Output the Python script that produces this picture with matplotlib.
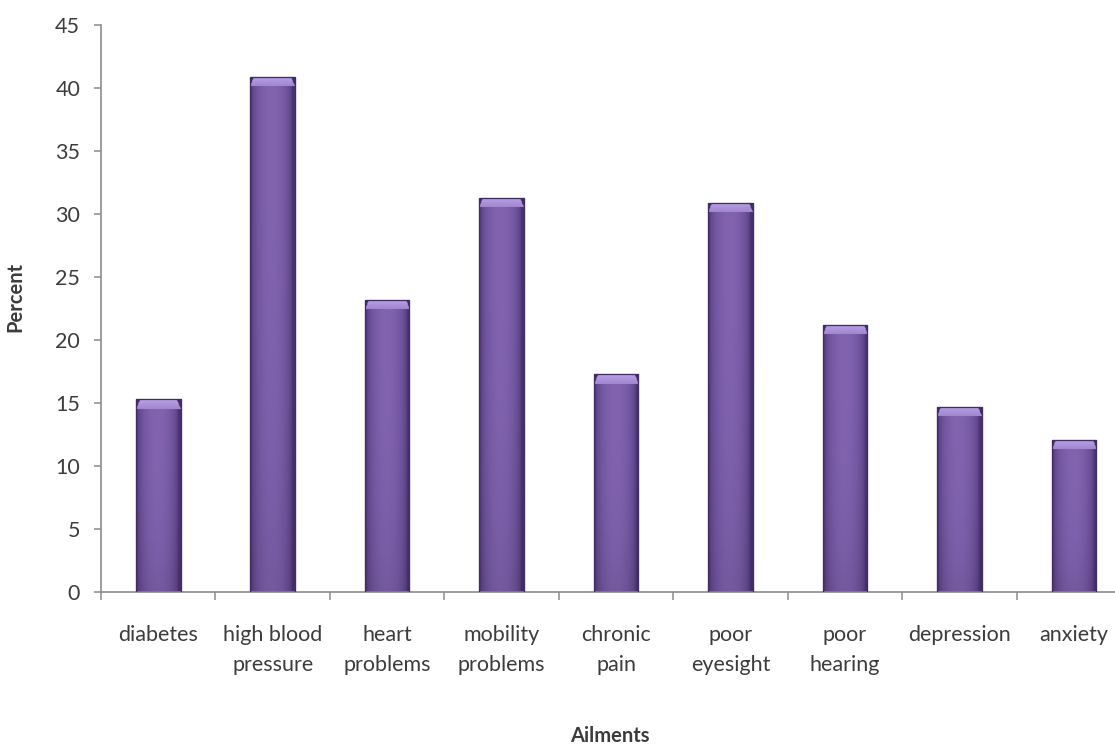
import numpy as np
import matplotlib
matplotlib.use("Agg")
import matplotlib.pyplot as plt
from matplotlib.colors import to_rgb

# Share of respondents reporting each ailment
ailments = ["diabetes", "high blood\npressure", "heart\nproblems", "mobility\nproblems",
            "chronic\npain", "poor\neyesight", "poor\nhearing", "depression", "anxiety"]
percent = [15.3, 40.9, 23.2, 31.3, 17.3, 30.9, 21.2, 14.7, 12.1]
y_ticks = [0, 5, 10, 15, 20, 25, 30, 35, 40, 45]

plt.rcParams["font.family"] = ["Lato", "DejaVu Sans"]
TEXT = "#3c3c3c"
AXIS = "#8c8c8c"

fig = plt.figure(figsize=(11.15, 7.47), dpi=100)
ax = fig.add_axes([0.0906, 0.2075, 0.9238, 0.759])

x = np.arange(len(ailments))
bar_w = 0.39
bars = ax.bar(x, percent, width=bar_w, color="#7a5aa6", edgecolor="#3f2d63", linewidth=0.8, zorder=2)

ax.set_xlim(-0.5, len(ailments) - 0.5)
ax.set_ylim(0, 45)

# Shaded fill for each bar: dark edges, light centre, bevelled top
dark = np.array(to_rgb("#4a3373"))
mid = np.array(to_rgb("#8163b0"))
light = np.array(to_rgb("#b9a0e6"))
ncol = 80
u = np.linspace(0, 1, ncol)
prof = np.clip(np.sin(np.pi * np.clip(u * 1.08 - 0.02, 0, 1)) ** 0.45, 0, 1)
row_body = dark[None, :] + (mid - dark)[None, :] * prof[:, None]

px_per_unit = ax.get_window_extent().height / 45.0
for rect in bars:
    x0, w, h = rect.get_x(), rect.get_width(), rect.get_height()
    nrow = max(int(h * px_per_unit), 2)
    img = np.repeat(row_body[None, :, :], nrow, axis=0)
    # slight darkening toward the base
    v = np.linspace(0, 1, nrow)[:, None, None]
    img = img * (1 - 0.10 * v ** 3)
    bevel = 10
    for r in range(min(bevel, nrow)):
        inset = int((bevel - r) / bevel * 0.10 * ncol)
        lo, hi = inset, ncol - inset
        t = 1 - r / bevel
        seg = light * (0.55 + 0.45 * t) + mid * (0.45 - 0.45 * t)
        img[r, lo:hi] = seg
        img[r, :lo] = dark * 0.9
        img[r, hi:] = dark * 0.9
    im = ax.imshow(img, extent=(x0, x0 + w, 0, h), aspect="auto", origin="upper",
                   zorder=2.5, interpolation="bilinear")
    im.set_clip_path(rect)
    edge = plt.Rectangle((x0, 0), w, h, fill=False, edgecolor="#3f2d63", linewidth=0.9, zorder=3)
    ax.add_patch(edge)

for side in ("top", "right"):
    ax.spines[side].set_visible(False)
ax.spines["left"].set_color(AXIS)
ax.spines["bottom"].set_color(AXIS)
ax.spines["left"].set_linewidth(1.2)
ax.spines["bottom"].set_linewidth(1.2)

ax.set_yticks(y_ticks)
ax.set_yticklabels([str(t) for t in y_ticks])
ax.tick_params(axis="y", length=5, width=1.1, color=AXIS, pad=10, labelsize=15.5, labelcolor=TEXT)

ax.set_xticks(x)
ax.set_xticklabels(ailments, linespacing=1.62)
ax.set_xticks(np.arange(len(ailments)) - 0.5, minor=True)
ax.tick_params(axis="x", which="major", length=0, pad=24, labelsize=15.5, labelcolor=TEXT)
ax.tick_params(axis="x", which="minor", length=6, width=1.1, color=AXIS)
for lbl in ax.get_xticklabels():
    lbl.set_verticalalignment("top")

ax.set_ylabel("Percent", fontsize=14.5, fontweight="bold", color=TEXT)
ax.yaxis.set_label_coords(-0.073, 0.52)
fig.text(0.547, 0.002, "Ailments", ha="center", va="bottom", fontsize=14.5,
         fontweight="bold", color=TEXT)

fig.savefig("out.png", dpi=100, facecolor="white")
